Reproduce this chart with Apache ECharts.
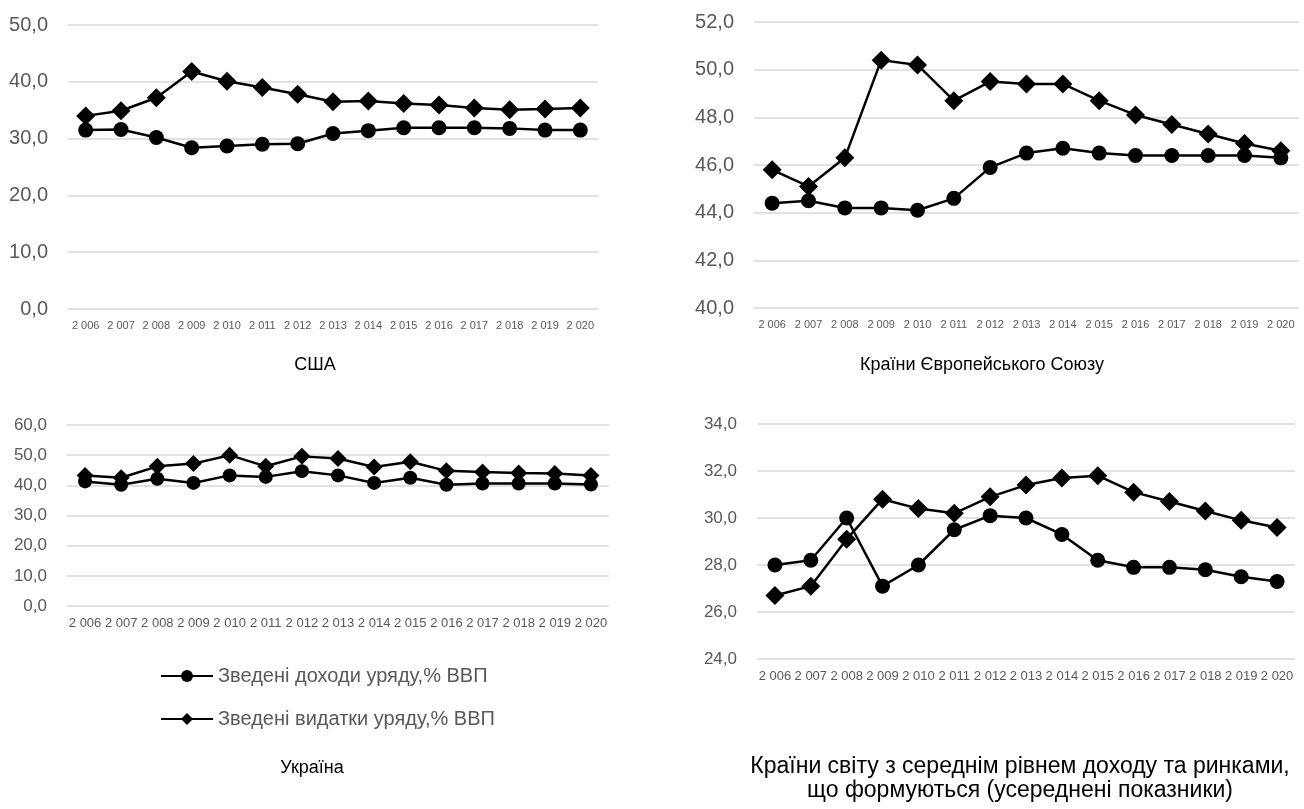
<!DOCTYPE html>
<html>
<head>
<meta charset="utf-8">
<script src="https://cdn.jsdelivr.net/npm/echarts@6/dist/echarts.min.js"></script>
<style>
  html, body { margin: 0; padding: 0; background: #fff; }
  #chart { width: 1304px; height: 809px; }
</style>
</head>
<body>
<div id="chart"></div>
<script>
const years = ['2 006', '2 007', '2 008', '2 009', '2 010', '2 011', '2 012', '2 013',
  '2 014', '2 015', '2 016', '2 017', '2 018', '2 019', '2 020']

const usaRevenue = [31.5, 31.6, 30.2, 28.4, 28.7, 29.0, 29.1, 30.9, 31.4, 31.9, 31.9, 31.9, 31.8, 31.5, 31.5]
const usaSpending = [34.0, 34.9, 37.2, 41.8, 40.1, 39.0, 37.8, 36.5, 36.6, 36.2, 35.9, 35.4, 35.1, 35.2, 35.4]

const euRevenue = [44.4, 44.5, 44.2, 44.2, 44.1, 44.6, 45.9, 46.5, 46.7, 46.5, 46.4, 46.4, 46.4, 46.4, 46.3]
const euSpending = [45.8, 45.1, 46.3, 50.4, 50.2, 48.7, 49.5, 49.4, 49.4, 48.7, 48.1, 47.7, 47.3, 46.9, 46.6]

const uaRevenue = [41.3, 40.2, 42.2, 40.8, 43.3, 42.8, 44.7, 43.3, 40.8, 42.5, 40.2, 40.6, 40.6, 40.6, 40.3]
const uaSpending = [43.3, 42.5, 46.3, 47.2, 50.0, 46.3, 49.6, 48.9, 46.1, 47.8, 44.8, 44.4, 44.1, 43.9, 43.3]

const emRevenue = [28.0, 28.2, 30.0, 27.1, 28.0, 29.5, 30.1, 30.0, 29.3, 28.2, 27.9, 27.9, 27.8, 27.5, 27.3]
const emSpending = [26.7, 27.1, 29.1, 30.8, 30.4, 30.2, 30.9, 31.4, 31.7, 31.8, 31.1, 30.7, 30.3, 29.9, 29.6]

const revenueName = 'Зведені доходи уряду,% ВВП'
const spendingName = 'Зведені видатки уряду,% ВВП'

const font = '"Liberation Sans", Arial, sans-serif'
const grey = '#595959'

const chart = echarts.init(document.getElementById('chart'))

// панелі: сітка, межі осі Y, крок, розміри підписів і маркерів
const panels = [
  { grid: { left: 68, top: 25, width: 530, height: 284 }, min: 0, max: 50, step: 10, yFont: 20, xFont: 11, dot: 15, diamond: 19 },
  { grid: { left: 754, top: 22, width: 545, height: 286 }, min: 40, max: 52, step: 2, yFont: 20, xFont: 11, dot: 15, diamond: 19 },
  { grid: { left: 67, top: 425, width: 542, height: 181 }, min: 0, max: 60, step: 10, yFont: 17, xFont: 13, dot: 14, diamond: 17 },
  { grid: { left: 757, top: 424, width: 538, height: 235 }, min: 24, max: 34, step: 2, yFont: 17, xFont: 13, dot: 15, diamond: 19 },
]
const data = [
  [usaRevenue, usaSpending],
  [euRevenue, euSpending],
  [uaRevenue, uaSpending],
  [emRevenue, emSpending],
]

const series = []
data.forEach((pair, i) => {
  series.push({
    name: revenueName, type: 'line', xAxisIndex: i, yAxisIndex: i,
    data: pair[0], symbol: 'circle', symbolSize: panels[i].dot,
    lineStyle: { color: '#000', width: 2.5 }, itemStyle: { color: '#000' },
    animation: false,
  })
  series.push({
    name: spendingName, type: 'line', xAxisIndex: i, yAxisIndex: i,
    data: pair[1], symbol: 'diamond', symbolSize: panels[i].diamond,
    lineStyle: { color: '#000', width: 2.5 }, itemStyle: { color: '#000' },
    animation: false,
  })
})

const titleStyle = (size) => ({ fontFamily: font, fontSize: size, fontWeight: 'normal', color: '#000', lineHeight: 24 })

chart.setOption({
  textStyle: { fontFamily: font },
  title: [
    { text: 'США', left: 310, top: 348, textAlign: 'center', textStyle: titleStyle(18) },
    { text: 'Країни Європейського Союзу', left: 977, top: 348, textAlign: 'center', textStyle: titleStyle(18) },
    { text: 'Україна', left: 307, top: 751, textAlign: 'center', textStyle: titleStyle(18) },
    {
      text: 'Країни світу з середнім рівнем доходу та ринками,\nщо формуються (усереднені показники)',
      left: 1015, top: 750, textAlign: 'center', textStyle: titleStyle(23),
    },
  ],
  legend: {
    orient: 'vertical',
    left: 155, top: 661,
    itemWidth: 52, itemHeight: 15, itemGap: 23,
    data: [revenueName, spendingName],
    textStyle: { fontFamily: font, fontSize: 20, color: grey },
  },
  grid: panels.map((p) => p.grid),
  xAxis: panels.map((p, i) => ({
    type: 'category', gridIndex: i, data: years, boundaryGap: true,
    axisLine: { show: false }, axisTick: { show: false },
    axisLabel: { color: grey, fontSize: p.xFont, margin: 11, interval: 0, fontFamily: font },
  })),
  yAxis: panels.map((p, i) => ({
    type: 'value', gridIndex: i, min: p.min, max: p.max, interval: p.step,
    axisLine: { show: false }, axisTick: { show: false },
    splitLine: { lineStyle: { color: '#d9d9d9', width: 1.5 } },
    axisLabel: {
      color: grey, fontSize: p.yFont, margin: 20, fontFamily: font,
      formatter: (v) => v.toFixed(1).replace('.', ','),
    },
  })),
  series,
})
</script>
</body>
</html>
